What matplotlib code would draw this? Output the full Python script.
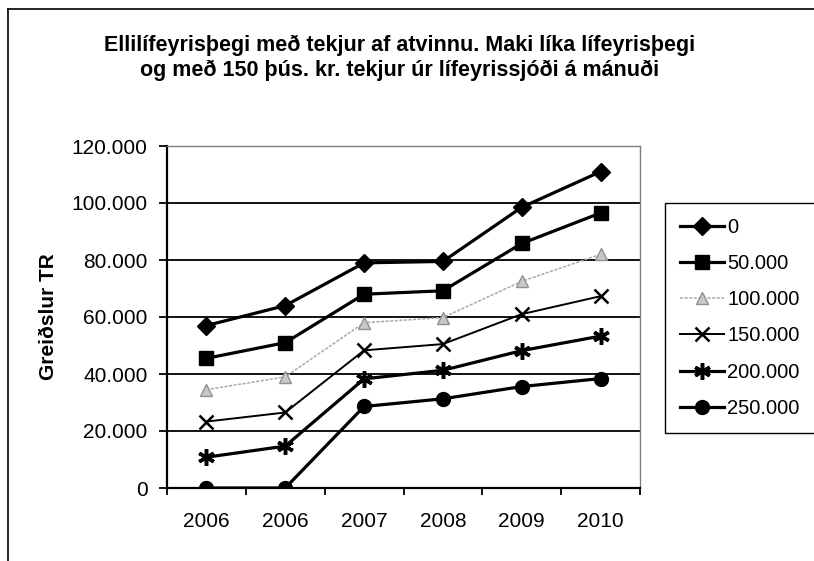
import matplotlib
matplotlib.use("Agg")
import matplotlib.pyplot as plt
from matplotlib.lines import Line2D
from matplotlib.ticker import FuncFormatter

plt.rcParams['font.family'] = ['Liberation Sans', 'DejaVu Sans']

years = ["2006", "2006", "2007", "2008", "2009", "2010"]
labels = ["0", "50.000", "100.000", "150.000", "200.000", "250.000"]
s0 = [57000, 64000, 79000, 79500, 98500, 111000]
s50 = [45500, 51000, 68000, 69200, 85800, 96500]
s100 = [34500, 39000, 58000, 59800, 72500, 82000]
s150 = [23300, 26500, 48300, 50500, 61000, 67300]
s200 = [10800, 14700, 38300, 41300, 48200, 53300]
s250 = [0, 0, 28600, 31300, 35600, 38400]
yticks = [0, 20000, 40000, 60000, 80000, 100000, 120000]

title = ("Ellilífeyrisþegi með tekjur af atvinnu. Maki líka lífeyrisþegi\n"
         "og með 150 þús. kr. tekjur úr lífeyrissjóði á mánuði")

fig = plt.figure(figsize=(8.14, 5.61), dpi=100)
ax = fig.add_axes([167/814, 1 - 488/561, 473/814, 342/561])

x = range(len(years))
ax.plot(x, s0, color='black', lw=2.3, marker='D', ms=9, label=labels[0])
ax.plot(x, s50, color='black', lw=2.3, marker='s', ms=10, label=labels[1])
ax.plot(x, s100, color='#a8a8a8', lw=1.1, ls=(0, (2, 1)), marker='^', ms=9,
        mfc='#c8c8c8', mec='#909090', label=labels[2])
ax.plot(x, s150, color='black', lw=1.4, marker='x', ms=10, mew=1.8, label=labels[3])
ax.plot(x, s200, color='black', lw=2.3, marker=(6, 2, 0), ms=12, mew=2.5, label=labels[4])
ax.plot(x, s250, color='black', lw=2.3, marker='o', ms=10, label=labels[5])

ax.set_ylim(0, 120000)
ax.set_xlim(-0.5, len(years) - 0.5)
ax.set_yticks(yticks)
ax.yaxis.set_major_formatter(FuncFormatter(lambda v, p: f"{int(v):,}".replace(",", ".")))
ax.grid(axis='y', color='black', lw=1.3)
ax.set_axisbelow(True)

ax.set_xticks([i - 0.5 for i in range(len(years) + 1)])
ax.set_xticklabels([])
ax.set_xticks(list(x), minor=True)
ax.set_xticklabels(years, minor=True)
ax.tick_params(axis='x', which='minor', length=0, pad=17, labelsize=15)
ax.tick_params(axis='x', which='major', length=5, width=1.3, direction='out')
ax.tick_params(axis='y', length=6, width=1.3, labelsize=15, pad=8)

for side in ['top', 'right']:
    ax.spines[side].set_color('#808080')
    ax.spines[side].set_linewidth(1)
for side in ['left', 'bottom']:
    ax.spines[side].set_linewidth(1.6)

ax.set_ylabel("Greiðslur TR", fontsize=15, fontweight='bold', labelpad=10)

fig.text(400/814, 1 - 58/561, title, ha='center', va='center', fontsize=15.5,
         fontweight='bold', linespacing=1.25)

fig.legend(loc='upper left', bbox_to_anchor=(665/814, 1 - 203/561), borderaxespad=0,
           fancybox=False, edgecolor='black', framealpha=1, fontsize=14.5,
           labelspacing=0.85, handlelength=2.2, handletextpad=0.15, borderpad=0.75)

fig.add_artist(Line2D([8/814, 8/814], [0, 1 - 9/561], color='black', lw=1.2))
fig.add_artist(Line2D([8/814, 1], [1 - 9/561, 1 - 9/561], color='black', lw=1.2))

fig.savefig("out.png", dpi=100)
